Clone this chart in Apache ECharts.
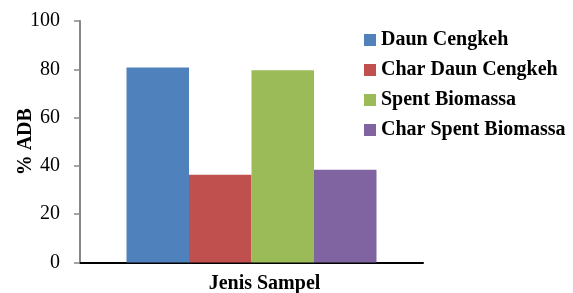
<!DOCTYPE html>
<html>
<head>
<meta charset="utf-8">
<script src="https://cdn.jsdelivr.net/npm/echarts@6/dist/echarts.min.js"></script>
<style>
  html, body { margin: 0; padding: 0; background: #fff; }
  #main { width: 573px; height: 293px; }
</style>
</head>
<body>
<div id="main"></div>
<script>
// data
var categories = ["Jenis Sampel"];
var seriesNames = ["Daun Cengkeh", "Char Daun Cengkeh", "Spent Biomassa", "Char Spent Biomassa"];
var seriesValues = [80.7, 36.3, 79.6, 38.4];
var seriesColors = ["#4F81BD", "#C0504D", "#9BBB59", "#8064A2"];

var fontSerif = "'Liberation Serif', 'DejaVu Serif', serif";

var series = [];
for (var i = 0; i < seriesNames.length; i++) {
  series.push({
    name: seriesNames[i],
    type: "bar",
    barWidth: 62.5,
    barGap: "0%",
    itemStyle: { color: seriesColors[i] },
    data: [seriesValues[i]]
  });
}

var myChart = echarts.init(document.getElementById("main"));
var option = {
  animation: false,
  textStyle: { fontFamily: fontSerif },
  legend: {
    orient: "vertical",
    left: 359,
    top: 25,
    itemWidth: 12,
    itemHeight: 12,
    itemGap: 10,
    icon: "rect",
    textStyle: { fontFamily: fontSerif, fontSize: 20, fontWeight: "bold", color: "#000" },
    data: seriesNames
  },
  grid: { left: 80, right: 150, top: 21, bottom: 30.5, containLabel: false, outerBoundsMode: "none" },
  xAxis: {
    type: "category",
    data: categories,
    name: "Jenis Sampel",
    nameLocation: "middle",
    nameGap: 11,
    nameMoveOverlap: false,
    nameTextStyle: { fontFamily: fontSerif, fontSize: 20, fontWeight: "bold", color: "#000", padding: [0, 0, 0, 26] },
    axisLine: { lineStyle: { color: "#000", width: 2 } },
    axisTick: { show: false },
    axisLabel: { show: false }
  },
  yAxis: {
    type: "value",
    min: 0,
    max: 100,
    interval: 20,
    name: "% ADB",
    nameLocation: "middle",
    nameGap: 44,
    nameMoveOverlap: false,
    nameTextStyle: { fontFamily: fontSerif, fontSize: 20, fontWeight: "bold", color: "#000" },
    axisLine: { show: true, lineStyle: { color: "#888", width: 2 } },
    axisTick: { show: true, length: 6, lineStyle: { color: "#888", width: 1.5 } },
    axisLabel: { margin: 20, fontFamily: fontSerif, fontSize: 20, color: "#000" },
    splitLine: { show: false }
  },
  series: series
};
myChart.setOption(option);
</script>
</body>
</html>
